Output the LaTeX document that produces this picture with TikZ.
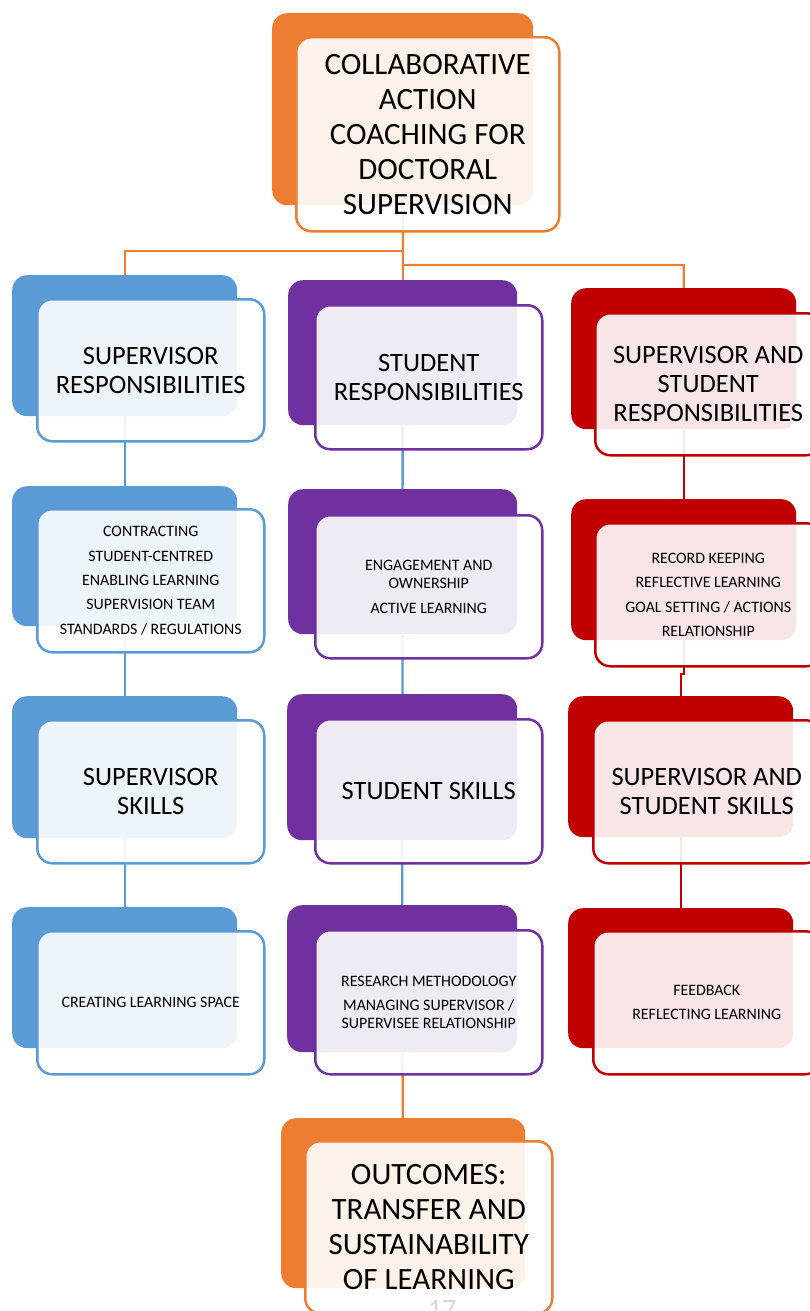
\documentclass[tikz,border=0pt]{standalone}
\usepackage{fontspec}
\setmainfont{Carlito}
\definecolor{cOrange}{HTML}{ED7D31}
\definecolor{cBlue}{HTML}{5B9BD5}
\definecolor{cPurple}{HTML}{7030A0}
\definecolor{cRed}{HTML}{C00000}
\pgfdeclarelayer{bg}
\pgfsetlayers{bg,main}
\tikzset{
  bk/.style={fill=#1, draw=none, rounded corners=15pt, inner sep=0pt, anchor=north west},
  fr/.style={draw=#1, line width=2.5pt, fill=white, fill opacity=0.9, text opacity=1,
             rounded corners=15pt, inner sep=0pt, anchor=north west, align=center, text=black},
  conn/.style={draw=#1, line width=2.3pt},
  big/.style={font=\fontsize{31}{35}\selectfont},
  head/.style={font=\fontsize{26.5}{29}\selectfont},
  small/.style={font=\fontsize{15.9}{18}\selectfont},
}
\begin{document}
\begin{tikzpicture}[x=1pt,y=-1pt]
\useasboundingbox (0,0) rectangle (810,1311);
\clip (0,0) rectangle (810,1311);
% back boxes
\node[bk=cOrange, minimum width=261, minimum height=192] (topB) at (272,13) {};
\node[bk=cBlue, minimum width=225, minimum height=141] (b1B) at (12,275) {};
\node[bk=cBlue, minimum width=225, minimum height=140] (b2B) at (12,486) {};
\node[bk=cBlue, minimum width=225, minimum height=142] (b3B) at (12,696) {};
\node[bk=cBlue, minimum width=225, minimum height=141] (b4B) at (12,907) {};
\node[bk=cPurple, minimum width=229, minimum height=145] (p1B) at (288,280) {};
\node[bk=cPurple, minimum width=229, minimum height=145] (p2B) at (288,489) {};
\node[bk=cPurple, minimum width=230, minimum height=146] (p3B) at (287,694) {};
\node[bk=cPurple, minimum width=230, minimum height=147] (p4B) at (287,905) {};
\node[bk=cRed, minimum width=225, minimum height=141] (r1B) at (571,288) {};
\node[bk=cRed, minimum width=225, minimum height=141] (r2B) at (571,499) {};
\node[bk=cRed, minimum width=225, minimum height=141] (r3B) at (568,696) {};
\node[bk=cRed, minimum width=225, minimum height=140] (r4B) at (568,908) {};
\node[bk=cOrange, minimum width=244, minimum height=170] (outB) at (281,1118) {};
% connectors (on the background layer, behind all boxes)
\coordinate (jL) at (403,251);
\coordinate (jR) at (403,265);
\coordinate (rj) at (0,674);
\begin{pgfonlayer}{bg}
\draw[conn=cOrange] (topB.center) -- (jR) -| (r1B.center);
\draw[conn=cOrange] (jL) -| (b1B.center);
\draw[conn=cOrange] (topB.center) -- (p1B.center);
\draw[conn=cBlue] (b1B.center) -- (b4B.center);
\draw[conn=cBlue] (p1B.center) -- (p4B.center);
\draw[conn=cOrange] (p4B.center) -- (outB.center);
\draw[conn=cRed] (r1B.center) -- (r2B.center) -- (r2B.center |- rj) -- (r3B.center |- rj) -- (r3B.center) -- (r4B.center);
\end{pgfonlayer}
% front boxes with text
\node[fr=cOrange, big, minimum width=263, minimum height=194] (top) at (295,36)
  {COLLABORATIVE\\ACTION\\COACHING FOR\\DOCTORAL\\SUPERVISION};
\node[fr=cBlue, head, minimum width=227, minimum height=142] (b1) at (36,298)
  {SUPERVISOR\\RESPONSIBILITIES};
\node[fr=cBlue, small, minimum width=227, minimum height=143] (b2) at (36,508)
  {CONTRACTING\\[6.3pt]STUDENT-CENTRED\\[6.3pt]ENABLING LEARNING\\[6.3pt]SUPERVISION TEAM\\[6.3pt]STANDARDS / REGULATIONS};
\node[fr=cBlue, head, minimum width=227, minimum height=143] (b3) at (36,719)
  {SUPERVISOR\\SKILLS};
\node[fr=cBlue, small, minimum width=227, minimum height=143] (b4) at (36,930)
  {CREATING LEARNING SPACE};
\node[fr=cPurple, head, minimum width=227, minimum height=144] (p1) at (314,304)
  {STUDENT\\RESPONSIBILITIES};
\node[fr=cPurple, small, minimum width=227, minimum height=143] (p2) at (314,514)
  {ENGAGEMENT AND\\OWNERSHIP\\[6.5pt]ACTIVE LEARNING};
\node[fr=cPurple, head, minimum width=227, minimum height=144] (p3) at (314,718)
  {STUDENT SKILLS};
\node[fr=cPurple, small, minimum width=227, minimum height=144] (p4) at (314,929)
  {RESEARCH METHODOLOGY\\[6.5pt]MANAGING SUPERVISOR /\\SUPERVISEE RELATIONSHIP};
\node[fr=cRed, head, minimum width=226, minimum height=142] (r1) at (594,312)
  {SUPERVISOR AND\\STUDENT\\RESPONSIBILITIES};
\node[fr=cRed, small, minimum width=226, minimum height=143] (r2) at (594,522)
  {RECORD KEEPING\\[6.3pt]REFLECTIVE LEARNING\\[6.3pt]GOAL SETTING / ACTIONS\\[6.3pt]RELATIONSHIP};
\node[fr=cRed, head, minimum width=227, minimum height=143] (r3) at (592,719)
  {SUPERVISOR AND\\STUDENT SKILLS};
\node[fr=cRed, small, minimum width=227, minimum height=143] (r4) at (592,930)
  {FEEDBACK\\[6pt]REFLECTING LEARNING};
\node[fr=cOrange, big, minimum width=247, minimum height=172] (out) at (304,1140)
  {OUTCOMES:\\TRANSFER AND\\SUSTAINABILITY\\OF LEARNING};
\node[text=black!15, font=\fontsize{28}{28}\selectfont, anchor=base, inner sep=0pt] (pg) at (442,1318) {17};
\end{tikzpicture}
\end{document}
